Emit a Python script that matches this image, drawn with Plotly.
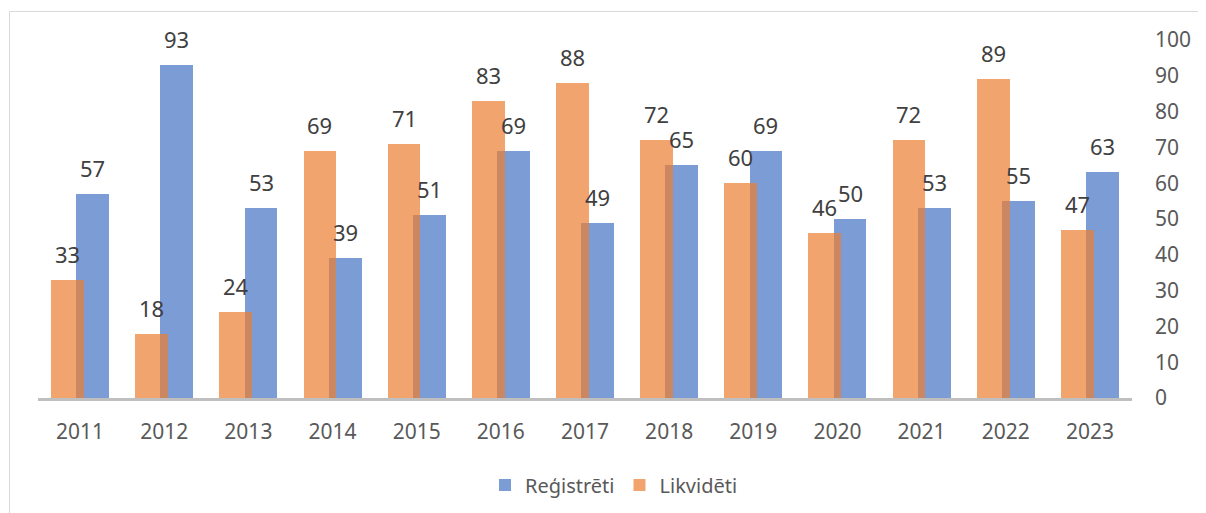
import plotly.graph_objects as go

years = ["2011", "2012", "2013", "2014", "2015", "2016", "2017", "2018", "2019", "2020", "2021", "2022", "2023"]
registreti = [57, 93, 53, 39, 51, 69, 49, 65, 69, 50, 53, 55, 63]
likvideti = [33, 18, 24, 69, 71, 83, 88, 72, 60, 46, 72, 89, 47]

xs = list(range(len(years)))
W = 0.39
SH = 0.15
FONT = "Noto Sans"

fig = go.Figure()
fig.add_trace(go.Bar(x=xs, y=registreti, name="Reģistrēti", width=W, offset=SH - W / 2,
                     marker=dict(color="rgba(68,114,196,0.7)", line=dict(width=0))))
fig.add_trace(go.Bar(x=xs, y=likvideti, name="Likvidēti", width=W, offset=-SH - W / 2,
                     marker=dict(color="rgba(237,125,49,0.7)", line=dict(width=0))))

ann = []
for i in xs:
    ann.append(dict(x=i + SH, y=registreti[i], text=str(registreti[i]), showarrow=False,
                    yanchor="bottom", yshift=9, font=dict(family=FONT, size=22, color="#404040")))
    ann.append(dict(x=i - SH, y=likvideti[i], text=str(likvideti[i]), showarrow=False,
                    yanchor="bottom", yshift=9, font=dict(family=FONT, size=22, color="#404040")))

# page body has an 8px margin
OFF = 8
FW, FH = 1206 - OFF, 513 - OFF
L, R, T, B = 38 - OFF, 1206 - 1132, 40 - OFF, 513 - 398
pw = FW - L - R
ph = FH - T - B


def px_x(sx):
    return (sx - OFF - L) / pw


def px_y(sy):
    return (FH - B - (sy - OFF)) / ph


fig.update_layout(
    width=FW, height=FH,
    margin=dict(l=L, r=R, t=T, b=B, autoexpand=False),
    barmode="overlay",
    bargap=0,
    paper_bgcolor="white", plot_bgcolor="white",
    font=dict(family=FONT, size=17, color="#595959"),
    showlegend=True,
    legend=dict(orientation="h", x=px_x(614), xanchor="center", y=px_y(485), yanchor="middle",
                font=dict(family=FONT, size=20, color="#595959")),
    annotations=ann,
    shapes=[dict(type="rect", xref="paper", yref="paper",
                 x0=px_x(9.5), x1=px_x(1215), y0=px_y(530), y1=px_y(11.5),
                 line=dict(color="#D9D9D9", width=1), fillcolor="rgba(0,0,0,0)", layer="below")],
)
fig.update_xaxes(range=[-0.5, len(years) - 0.5], tickvals=xs, ticktext=years, showgrid=False,
                 zeroline=False, showline=True, linecolor="#BFBFBF", linewidth=2.5, ticks="",
                 ticklabelstandoff=13, tickfont=dict(size=21, color="#595959"))
fig.update_yaxes(range=[0, 100], side="right", dtick=10, showgrid=False, zeroline=False,
                 showline=False, ticks="", ticklabelstandoff=22, tickfont=dict(size=21, color="#595959"))

fig.write_html("out.html")
